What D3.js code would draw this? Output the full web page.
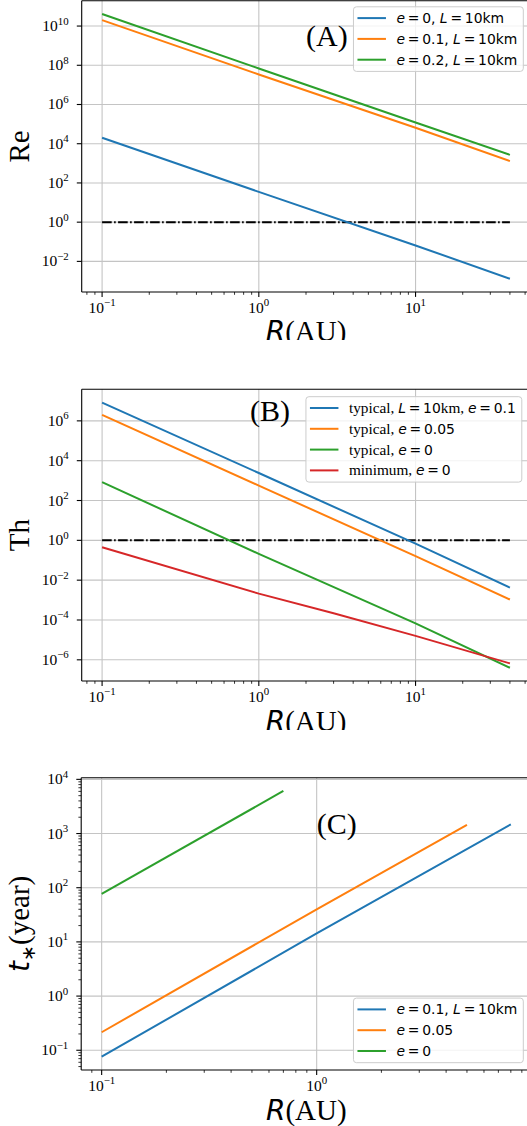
<!DOCTYPE html>
<html>
<head>
<meta charset="utf-8">
<script src="https://cdn.jsdelivr.net/npm/d3@7"></script>
<style>
body { margin: 0; background: #fff; }
svg { display: block; }
</style>
</head>
<body>
<div id="chart"></div>
<script>
// Panel (A): Reynolds number against distance R (AU)
var rA = [0.1, 1, 10, 40];
var reE0 = [2.0e4, 35, 0.065, 1.3e-3];
var reE01 = [2.0e10, 3.4e7, 6.5e4, 1.3e3];
var reE02 = [4.1e10, 6.9e7, 1.2e5, 2.7e3];

// Panel (B): Th against R
var rB = [0.1, 1, 10, 40];
var thTypical = [8.3e6, 2.4e3, 0.68, 4.2e-3];
var thE005 = [2.0e6, 5.6e2, 0.16, 1.07e-3];
var thE0 = [830, 0.21, 6.8e-5, 4.0e-7];
var rBmin = [0.1, 1, 3, 10, 40];
var thMin = [0.45, 2.1e-3, 2.2e-4, 1.6e-5, 6.6e-7];

// Panel (C): t_* (year) against R
var rC1 = [0.1, 1, 8];
var tE01 = [0.076, 14.3, 1480];
var rC2 = [0.1, 1, 5];
var tE005 = [0.215, 40, 1450];
var rC3 = [0.1, 0.7];
var tE0 = [77, 6100];

// threshold line (value 1)
var hlineR = [0.1, 40];
var hlineV = [1, 1];

// tick exponents
var xExpAB = [-1, 0, 1];
var xExpC = [-1, 0];
var yExpA = [-2, 0, 2, 4, 6, 8, 10];
var yExpB = [-6, -4, -2, 0, 2, 4, 6];
var yExpC = [-1, 0, 1, 2, 3, 4];

// legend labels: [text, kind] kind i = italic sans, s = sans, r = serif
var labelsA = [
    [["e", "i"], ["\u2009=\u20090, ", "s"], ["L", "i"], ["\u2009=\u200910km", "s"]],
    [["e", "i"], ["\u2009=\u20090.1, ", "s"], ["L", "i"], ["\u2009=\u200910km", "s"]],
    [["e", "i"], ["\u2009=\u20090.2, ", "s"], ["L", "i"], ["\u2009=\u200910km", "s"]]
];
var labelsB = [
    [["typical, ", "r"], ["L", "i"], ["\u2009=\u200910", "s"], ["km, ", "r"], ["e", "i"], ["\u2009=\u20090.1", "s"]],
    [["typical, ", "r"], ["e", "i"], ["\u2009=\u20090.05", "s"]],
    [["typical, ", "r"], ["e", "i"], ["\u2009=\u20090", "s"]],
    [["minimum, ", "r"], ["e", "i"], ["\u2009=\u20090", "s"]]
];
var labelsC = [
    [["e", "i"], ["\u2009=\u20090.1, ", "s"], ["L", "i"], ["\u2009=\u200910km", "s"]],
    [["e", "i"], ["\u2009=\u20090.05", "s"]],
    [["e", "i"], ["\u2009=\u20090", "s"]]
];

var colors = ["#1f77b4", "#ff7f0e", "#2ca02c", "#d62728"];

var SERIF = "'Liberation Serif', 'DejaVu Serif', serif";
var SANS = "'DejaVu Sans', sans-serif";
var W = 527, H = 1126;
var TICK_FS = 15.5;

function zip(xs, ys) { return xs.map(function(v, i) { return [v, ys[i]]; }); }

var panels = [
    {
        id: "clipA", clip: [0, 340],
        box: {left: 81.7, right: 530.3, top: 0.8, bottom: 292},
        series: [zip(rA, reE0), zip(rA, reE01), zip(rA, reE02)],
        xExp: xExpAB, yExp: yExpA, yMinor: false, xlabelDy: 49,
        ylabel: [["Re", "r"]], tag: "(A)", tagAt: [2, 1e9],
        labels: labelsA, legend: {right: 7, top: 6}
    },
    {
        id: "clipB", clip: [340, 730],
        box: {left: 81.7, right: 530.3, top: 389.3, bottom: 681},
        series: [zip(rB, thTypical), zip(rB, thE005), zip(rB, thE0), zip(rBmin, thMin)],
        xExp: xExpAB, yExp: yExpB, yMinor: false, xlabelDy: 50,
        ylabel: [["Th", "r"]], tag: "(B)", tagAt: [0.88, 1e6],
        labels: labelsB, legend: {right: 8.5, top: 7.4}
    },
    {
        id: "clipC", clip: [730, 1126],
        box: {left: 81.2, right: 531.3, top: 777.7, bottom: 1070},
        series: [zip(rC1, tE01), zip(rC2, tE005), zip(rC3, tE0)],
        xExp: xExpC, yExp: yExpC, yMinor: true, noHline: true, xlabelDy: 50,
        ylabel: [["t", "i"], ["\u2217", "sub"], ["(year)", "r"]], tag: "(C)", tagAt: [1, 1e3],
        labels: labelsC, legend: {right: 8, bottom: 7.3}
    }
];

var svg = d3.select("#chart").append("svg")
    .attr("width", W)
    .attr("height", H);

function supText(sel, exp, fs) {
    sel.append("tspan").text("10");
    sel.append("tspan")
        .attr("dy", -0.42 * fs)
        .attr("font-size", fs * 0.7)
        .text(exp < 0 ? "\u2212" + (-exp) : String(exp));
}

function addSegments(t, segs, fs) {
    segs.forEach(function(s) {
        var ts = t.append("tspan").text(s[0]);
        if (s[1] === "i") {
            ts.attr("font-family", SANS).attr("font-style", "italic");
        } else if (s[1] === "s") {
            ts.attr("font-family", SANS);
        } else {
            ts.attr("font-family", SERIF).attr("font-size", fs * 1.1);
        }
    });
}

function drawPanel(p) {
    svg.append("clipPath").attr("id", p.id)
        .append("rect")
        .attr("x", 0).attr("y", p.clip[0])
        .attr("width", W).attr("height", p.clip[1] - p.clip[0]);

    var g = svg.append("g").attr("clip-path", "url(#" + p.id + ")");

    // matplotlib-like 5% margins in log space
    var pts = [];
    p.series.forEach(function(s) { pts = pts.concat(s); });
    var lx = d3.extent(pts, function(d) { return Math.log10(d[0]); });
    var ly = d3.extent(pts, function(d) { return Math.log10(d[1]); });
    var mx = (lx[1] - lx[0]) * 0.05, my = (ly[1] - ly[0]) * 0.05;

    var x = d3.scaleLog()
        .domain([Math.pow(10, lx[0] - mx), Math.pow(10, lx[1] + mx)])
        .range([p.box.left, p.box.right]);
    var y = d3.scaleLog()
        .domain([Math.pow(10, ly[0] - my), Math.pow(10, ly[1] + my)])
        .range([p.box.bottom, p.box.top]);

    var b = p.box;
    var xMajor = p.xExp.map(function(e) { return Math.pow(10, e); });
    var yMajor = p.yExp.map(function(e) { return Math.pow(10, e); });

    // grid
    g.append("g").selectAll("line").data(xMajor).enter().append("line")
        .attr("x1", function(d) { return x(d); }).attr("x2", function(d) { return x(d); })
        .attr("y1", b.top).attr("y2", b.bottom)
        .attr("stroke", "#c4c4c4").attr("stroke-width", 1.1);
    g.append("g").selectAll("line").data(yMajor).enter().append("line")
        .attr("y1", function(d) { return y(d); }).attr("y2", function(d) { return y(d); })
        .attr("x1", b.left).attr("x2", b.right)
        .attr("stroke", "#c4c4c4").attr("stroke-width", 1.1);

    // data lines
    var line = d3.line()
        .x(function(d) { return x(d[0]); })
        .y(function(d) { return y(d[1]); });

    if (!p.noHline) {
        g.append("path")
            .datum(zip(hlineR, hlineV))
            .attr("d", line)
            .attr("fill", "none")
            .attr("stroke", "#000")
            .attr("stroke-width", 2)
            .attr("stroke-dasharray", "9.6,2.4,1.6,2.4");
    }

    p.series.forEach(function(s, i) {
        g.append("path")
            .datum(s)
            .attr("d", line)
            .attr("fill", "none")
            .attr("stroke", colors[i])
            .attr("stroke-width", 2);
    });

    // spines
    g.append("line").attr("x1", b.left).attr("x2", b.left).attr("y1", b.top).attr("y2", b.bottom)
        .attr("stroke", "#000").attr("stroke-width", 1.1);
    g.append("line").attr("x1", b.left).attr("x2", b.right).attr("y1", b.bottom).attr("y2", b.bottom)
        .attr("stroke", "#000").attr("stroke-width", 1.1);
    g.append("line").attr("x1", b.left).attr("x2", b.right).attr("y1", b.top).attr("y2", b.top)
        .attr("stroke", "#000").attr("stroke-width", 1.1);

    // x ticks (major + minor from the log scale)
    var isPow = function(v) { return Math.abs(Math.log10(v) - Math.round(Math.log10(v))) < 1e-9; };
    var xt = x.ticks();
    g.append("g").selectAll("line").data(xt).enter().append("line")
        .attr("x1", function(d) { return x(d); }).attr("x2", function(d) { return x(d); })
        .attr("y1", b.bottom)
        .attr("y2", function(d) { return b.bottom + (isPow(d) ? 4.9 : 2.8); })
        .attr("stroke", "#000")
        .attr("stroke-width", function(d) { return isPow(d) ? 1.1 : 0.8; });

    p.xExp.forEach(function(e) {
        var t = g.append("text")
            .attr("x", x(Math.pow(10, e)))
            .attr("y", b.bottom + 20.5)
            .attr("text-anchor", "middle")
            .attr("font-family", SERIF)
            .attr("font-size", TICK_FS)
            .attr("fill", "#000");
        supText(t, e, TICK_FS);
    });

    // y ticks
    var yt = p.yMinor ? y.ticks() : yMajor;
    g.append("g").selectAll("line").data(yt).enter().append("line")
        .attr("y1", function(d) { return y(d); }).attr("y2", function(d) { return y(d); })
        .attr("x1", b.left)
        .attr("x2", function(d) { return b.left - (isPow(d) ? 4.9 : 2.8); })
        .attr("stroke", "#000")
        .attr("stroke-width", function(d) { return isPow(d) ? 1.1 : 0.8; });

    p.yExp.forEach(function(e) {
        var t = g.append("text")
            .attr("x", b.left - 13)
            .attr("y", y(Math.pow(10, e)) + 5)
            .attr("text-anchor", "end")
            .attr("font-family", SERIF)
            .attr("font-size", TICK_FS)
            .attr("fill", "#000");
        supText(t, e, TICK_FS);
    });

    // axis labels
    var xl = g.append("text")
        .attr("x", (b.left + b.right) / 2)
        .attr("y", b.bottom + p.xlabelDy)
        .attr("text-anchor", "middle")
        .attr("font-size", 28)
        .attr("fill", "#000");
    xl.append("tspan").attr("font-family", SANS).attr("font-style", "italic").text("R");
    xl.append("tspan").attr("font-family", SERIF).attr("font-size", 29).text("(AU)");

    var yl = g.append("text")
        .attr("transform", "translate(29," + ((b.top + b.bottom) / 2) + ") rotate(-90)")
        .attr("text-anchor", "middle")
        .attr("font-size", 29)
        .attr("fill", "#000");
    p.ylabel.forEach(function(s) {
        var ts = yl.append("tspan").text(s[0]);
        if (s[1] === "i") ts.attr("font-family", SANS).attr("font-style", "italic").attr("font-size", 28);
        else if (s[1] === "sub") ts.attr("font-family", SANS).attr("font-size", 19).attr("dy", 6);
        else ts.attr("font-family", SERIF).attr("dy", p.ylabel.length > 1 ? -6 : 0);
    });

    // panel tag
    g.append("text")
        .attr("x", x(p.tagAt[0]))
        .attr("y", y(p.tagAt[1]))
        .attr("font-family", SERIF)
        .attr("font-size", 30)
        .attr("fill", "#000")
        .text(p.tag);

    // legend
    var fs = 13.9, rowH = 20.8, padL = 4, handle = 28.5, gap = 10.5, padR = 6;
    var lg = g.append("g");
    var box = lg.append("rect");
    var texts = [];
    p.labels.forEach(function(segs) {
        var t = lg.append("text")
            .attr("font-size", fs)
            .attr("fill", "#000");
        addSegments(t, segs, fs);
        texts.push(t);
    });
    var maxW = d3.max(texts, function(t) { return t.node().getComputedTextLength(); });
    var bw = padL + handle + gap + maxW + padR;
    var bh = 11.3 + (p.labels.length - 1) * rowH + 11.7;
    var bx = b.right - p.legend.right - bw;
    var by = p.legend.top !== undefined ? b.top + p.legend.top : b.bottom - p.legend.bottom - bh;
    box.attr("x", bx).attr("y", by).attr("width", bw).attr("height", bh)
        .attr("rx", 3)
        .attr("fill", "#fff").attr("fill-opacity", 0.8)
        .attr("stroke", "#cccccc").attr("stroke-width", 1);
    texts.forEach(function(t, i) {
        var cy = by + 11.3 + i * rowH;
        lg.append("line")
            .attr("x1", bx + padL).attr("x2", bx + padL + handle)
            .attr("y1", cy).attr("y2", cy)
            .attr("stroke", colors[i]).attr("stroke-width", 2);
        t.attr("x", bx + padL + handle + gap).attr("y", cy + 5);
    });
}

panels.forEach(drawPanel);
</script>
</body>
</html>
